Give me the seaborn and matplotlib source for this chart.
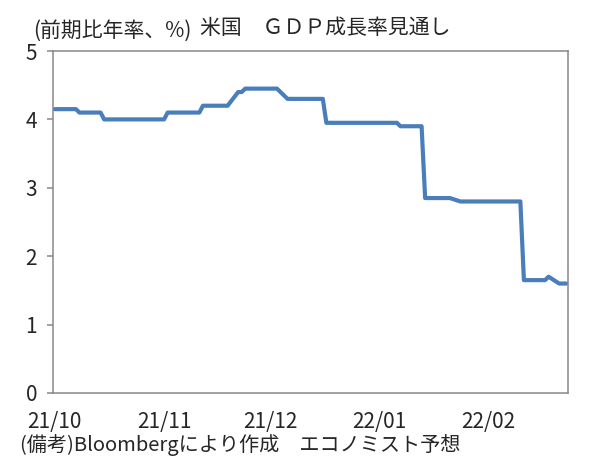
import pandas as pd
import seaborn as sns
import matplotlib.pyplot as plt

# vertices of the consensus line (date, %)
dates = ['2021-10-01', '2021-10-07', '2021-10-08', '2021-10-14', '2021-10-15',
         '2021-11-01', '2021-11-02', '2021-11-11', '2021-11-12', '2021-11-19',
         '2021-11-22', '2021-11-23', '2021-11-24', '2021-12-03', '2021-12-06',
         '2021-12-16', '2021-12-17', '2022-01-06', '2022-01-07', '2022-01-13',
         '2022-01-14', '2022-01-21', '2022-01-24', '2022-02-10', '2022-02-11',
         '2022-02-17', '2022-02-18', '2022-02-21', '2022-02-23']
gdp = [4.15, 4.15, 4.10, 4.10, 4.00,
       4.00, 4.10, 4.10, 4.20, 4.20,
       4.40, 4.40, 4.45, 4.45, 4.30,
       4.30, 3.95, 3.95, 3.90, 3.90,
       2.85, 2.85, 2.80, 2.80, 1.65,
       1.65, 1.70, 1.60, 1.60]
tick_dates = ['2021-10-01', '2021-11-01', '2021-12-01', '2022-01-01', '2022-02-01']
tick_labels = ['21/10', '21/11', '21/12', '22/01', '22/02']

df = pd.DataFrame({'date': pd.to_datetime(dates), 'gdp': gdp})

sns.set_style('white')
plt.rcParams['font.family'] = ['Noto Sans CJK JP', 'DejaVu Sans']

fig = plt.figure(figsize=(5.96, 4.62), dpi=100)
ax = fig.add_axes([0.0889, 0.1494, 0.8641, 0.7402])

sns.lineplot(x='date', y='gdp', data=df, ax=ax, color='#4a7ebb', linewidth=3, estimator=None)

ax.set_xlim(pd.Timestamp('2021-10-01') - pd.Timedelta(hours=12),
            pd.Timestamp('2022-02-23') + pd.Timedelta(hours=12))
ax.set_ylim(0, 5)
ax.set_yticks([0, 1, 2, 3, 4, 5])
ax.set_xticks(pd.to_datetime(tick_dates))
ax.set_xticklabels(tick_labels)
ax.set_xlabel('')
ax.set_ylabel('')

for s in ax.spines.values():
    s.set_color('#888888')
    s.set_linewidth(1.1)
    s.set_visible(True)

ax.tick_params(axis='y', length=4.5, width=1.1, color='#888888', pad=7, labelsize=15, left=True)
ax.tick_params(axis='x', length=0, pad=13, labelsize=15)

fig.text(200 / 596, 0.939, '米国　ＧＤＰ成長率見通し', fontsize=15, va='center', ha='left')
fig.text(33 / 596, 0.934, '(前期比年率、%)', fontsize=15, va='center', ha='left')
fig.text(20 / 596, 0.036, '(備考)Bloombergにより作成　エコノミスト予想', fontsize=14.5, va='center', ha='left')

fig.savefig('out.png', dpi=100)
